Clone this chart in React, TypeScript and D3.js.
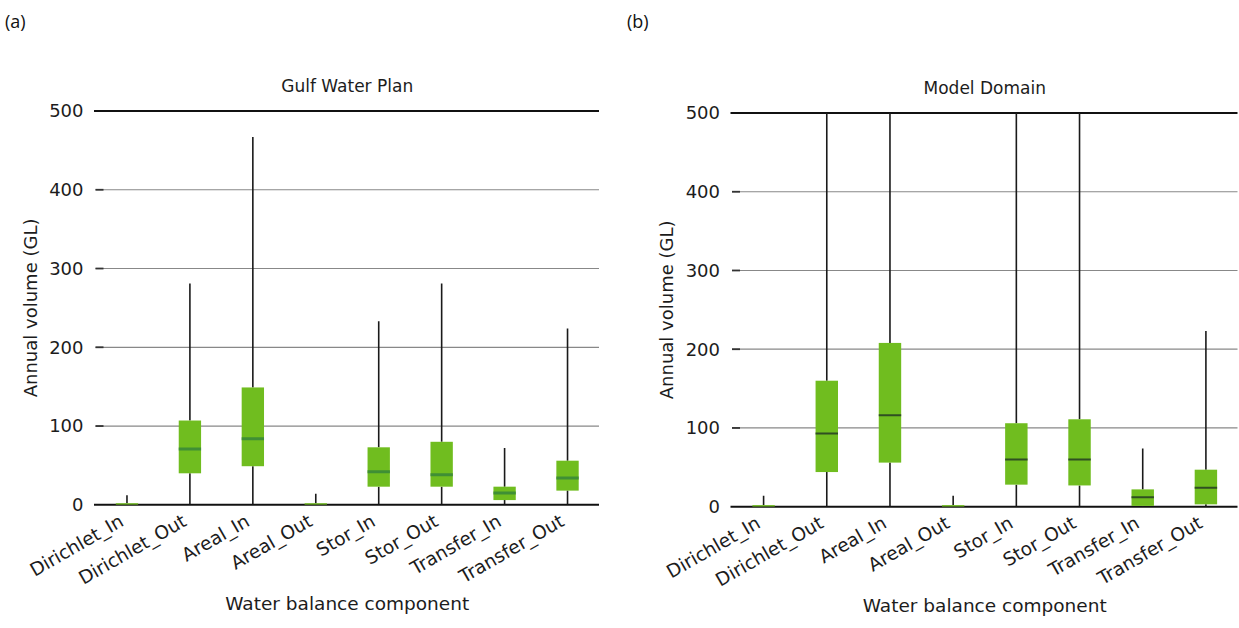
import React from "react";
import * as d3 from "d3";

// Water balance components shown on the x axis
const categories = [
  "Dirichlet_In",
  "Dirichlet_Out",
  "Areal_In",
  "Areal_Out",
  "Stor_In",
  "Stor_Out",
  "Transfer_In",
  "Transfer_Out",
];

const yTicks = [0, 100, 200, 300, 400, 500];

// Gulf Water Plan: box statistics per component (GL)
const gulfLow = [0, 0, 0, 0, 0, 0, 0, 0];
const gulfQ1 = [0, 40, 49, 0, 23, 23, 6, 18];
const gulfMedian = [1, 71, 84, 1, 42, 38, 15, 34];
const gulfQ3 = [2, 107, 149, 2, 73, 80, 23, 56];
const gulfHigh = [12, 281, 467, 14, 233, 281, 72, 224];

// Model Domain: box statistics per component (GL)
const domainLow = [0, 0, 0, 0, 0, 0, 0, 0];
const domainQ1 = [0, 44, 56, 0, 28, 27, 1, 3];
const domainMedian = [1, 93, 116, 1, 60, 60, 12, 24];
const domainQ3 = [2, 160, 208, 2, 106, 111, 22, 47];
const domainHigh = [14, 500, 500, 14, 500, 500, 74, 223];

type PanelProps = {
  tag: string;
  tagX: number;
  title: string;
  left: number;
  right: number;
  bottom: number;
  top: number;
  low: number[];
  q1: number[];
  median: number[];
  q3: number[];
  high: number[];
  medianColor: string;
  medianWidth: number;
};

const FONT = "'DejaVu Sans', sans-serif";
const TEXT = "#1c1c1c";
const BOX = "#70bd1f";

function Panel(p: PanelProps) {
  const x = d3.scalePoint<string>().domain(categories).range([p.left, p.right]).padding(0.5);
  const y = d3.scaleLinear().domain([0, 500]).range([p.bottom, p.top]);
  const step = x.step();
  const boxW = step * 0.355;
  const cx = (p.left + p.right) / 2;
  const cy = (p.top + p.bottom) / 2;
  const clipId = `clip-${p.tag.replace(/[^a-z]/g, "")}`;

  return (
    <g>
      <text x={p.tagX} y={28} fontFamily="'Open Sans', sans-serif" fontSize={18} fill="#111">
        {p.tag}
      </text>
      <defs>
        <clipPath id={clipId}>
          <rect x={p.left - 10} y={p.top} width={p.right - p.left + 20} height={p.bottom - p.top} />
        </clipPath>
      </defs>
      {/* horizontal grid */}
      {yTicks.map((t) => {
        const edge = t === 0 || t === 500;
        return (
          <g key={t}>
            <line
              x1={p.left - (edge ? 1.5 : 0)}
              x2={p.right}
              y1={y(t)}
              y2={y(t)}
              stroke={edge ? "#111" : "#888"}
              strokeWidth={edge ? 2 : 1.2}
            />
            {!edge && (
              <line x1={p.left} x2={p.left + 8} y1={y(t)} y2={y(t)} stroke="#333" strokeWidth={1.8} />
            )}
            <text
              x={p.left - 12}
              y={y(t)}
              dy="0.35em"
              textAnchor="end"
              fontFamily={FONT}
              fontSize={18}
              fill={TEXT}
            >
              {t}
            </text>
          </g>
        );
      })}
      {/* boxes and whiskers */}
      <g clipPath={`url(#${clipId})`}>
        {categories.map((c, i) => {
          const px = x(c) as number;
          return (
            <g key={c}>
              <line x1={px} x2={px} y1={y(p.low[i])} y2={y(p.q1[i])} stroke="#1a1a1a" strokeWidth={1.6} />
              <line x1={px} x2={px} y1={y(p.q3[i])} y2={y(p.high[i])} stroke="#1a1a1a" strokeWidth={1.6} />
              <rect
                x={px - boxW / 2}
                y={y(p.q3[i])}
                width={boxW}
                height={Math.max(0, y(p.q1[i]) - y(p.q3[i]))}
                fill={BOX}
              />
              {p.q3[i] - p.q1[i] > 5 && (
                <line
                  x1={px - boxW / 2}
                  x2={px + boxW / 2}
                  y1={y(p.median[i])}
                  y2={y(p.median[i])}
                  stroke={p.medianColor}
                  strokeWidth={p.medianWidth}
                />
              )}
            </g>
          );
        })}
      </g>
      {/* category labels */}
      {categories.map((c) => {
        const px = x(c) as number;
        return (
          <text
            key={c}
            transform={`translate(${px - 2},${p.bottom + 20}) rotate(-30)`}
            textAnchor="end"
            fontFamily={FONT}
            fontSize={18.5}
            fill={TEXT}
          >
            {c}
          </text>
        );
      })}
      <text x={cx} y={p.top - 19} textAnchor="middle" fontFamily={FONT} fontSize={17} fill={TEXT}>
        {p.title}
      </text>
      <text
        transform={`translate(${p.left - 59},${cy}) rotate(-90)`}
        textAnchor="middle"
        fontFamily={FONT}
        fontSize={18}
        fill={TEXT}
      >
        Annual volume (GL)
      </text>
      <text x={cx} y={p.bottom + 105} textAnchor="middle" fontFamily={FONT} fontSize={18.5} fill={TEXT}>
        Water balance component
      </text>
    </g>
  );
}

export default function App() {
  return (
    <svg
      width={1239}
      height={628}
      viewBox="0 0 1239 628"
      style={{ position: "absolute", left: 0, top: 0, background: "#fff" }}
    >
      <rect x={0} y={0} width={1239} height={628} fill="#fff" />
      <Panel
        tag="(a)"
        tagX={5}
        title="Gulf Water Plan"
        left={95.5}
        right={599}
        bottom={504.8}
        top={111}
        low={gulfLow}
        q1={gulfQ1}
        median={gulfMedian}
        q3={gulfQ3}
        high={gulfHigh}
        medianColor="#3f8f35"
        medianWidth={3}
      />
      <Panel
        tag="(b)"
        tagX={627}
        title="Model Domain"
        left={732}
        right={1237.5}
        bottom={506.7}
        top={113}
        low={domainLow}
        q1={domainQ1}
        median={domainMedian}
        q3={domainQ3}
        high={domainHigh}
        medianColor="#2f4f22"
        medianWidth={2}
      />
    </svg>
  );
}
